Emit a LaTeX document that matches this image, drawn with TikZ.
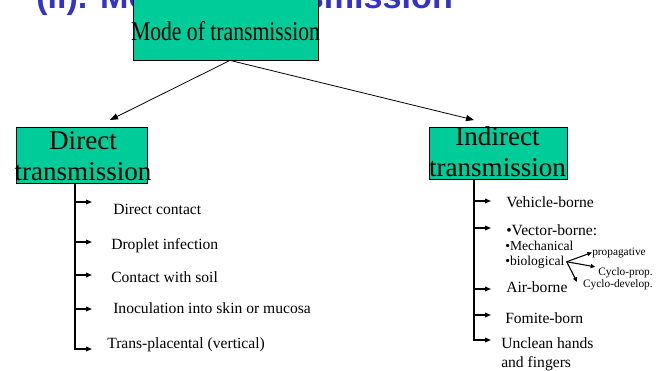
\documentclass[tikz,border=0pt]{standalone}
\usepackage{fontspec}
\usepackage{graphicx}
\setmainfont{Liberation Serif}
\newfontfamily\titlefont{Liberation Sans}
\usetikzlibrary{arrows.meta,calc}
\definecolor{boxgreen}{RGB}{0,204,153}
\definecolor{titleblue}{RGB}{51,51,204}
\tikzset{
	greenbox/.style={draw=black, line width=0.6pt, fill=boxgreen, inner sep=0pt},
	boxlabel/.style={font=\fontsize{20.3}{23}\selectfont, align=center, inner sep=0pt},
	item/.style={font=\fontsize{11.7}{14}\selectfont, inner sep=0pt, anchor=base west},
	subitem/.style={font=\fontsize{10.2}{12}\selectfont, inner sep=0pt, anchor=base west},
	smalllabel/.style={font=\fontsize{8.5}{10}\selectfont, inner sep=0pt},
	mainarrow/.style={-{Triangle[length=6pt,width=4.5pt]}, line width=0.6pt},
	branch/.style={-{Triangle[length=4.5pt,width=3.5pt]}, line width=1pt},
	fan/.style={-{Triangle[length=3.5pt,width=3pt]}, line width=0.8pt}
}
\begin{document}
\begin{tikzpicture}[x=0.75pt,y=-0.75pt]
	\useasboundingbox (0,0) rectangle (657,371);
	\clip (0,0) rectangle (657,371);

	% slide title, cut by the top edge
	\node[anchor=base west, inner sep=0pt, text=titleblue, font=\titlefont\bfseries\fontsize{25.6}{30}\selectfont] (title) at (36,8) {(ii). Mode of transmission};

	\node[greenbox, minimum width=138.75pt, minimum height=52.5pt] (mode) at (225.5,25) {};
	\node[anchor=base, inner sep=0pt, font=\fontsize{16.25}{20}\selectfont] (modelbl) at (225.5,40) {\scalebox{1}[1.25]{Mode of transmission}};

	\node[greenbox, minimum width=98.25pt, minimum height=42pt] (direct) at (81.5,155) {};
	\node[boxlabel] (directlbl) at (83,156) {Direct\\transmission};

	\node[greenbox, minimum width=103.5pt, minimum height=39pt] (indirect) at (498,153) {};
	\node[boxlabel] (indirectlbl) at (497.5,152) {Indirect\\transmission};

	\coordinate (modefoot) at ([xshift=3.4pt]mode.south);
	\coordinate (directtip) at (110,120);
	\coordinate (indirecttip) at (474,120);
	\draw[mainarrow] (modefoot) -- (directtip);
	\draw[mainarrow] (modefoot) -- (indirecttip);

	% direct branches
	\coordinate (dtrunk) at (75,349);
	\draw[branch] (direct.south -| dtrunk) -- (dtrunk) -- ++(17,0);
	\foreach \y in {202,242,275,309}
		\draw[branch] (dtrunk |- 0,\y) -- ++(17,0);

	\node[item] (dcontact) at (113,214) {Direct contact};
	\node[item] (droplet) at (111,249) {Droplet infection};
	\node[item] (soil) at (111,282) {Contact with soil};
	\node[item] (inoc) at (113,313) {Inoculation into skin or mucosa};
	\node[item] (transpl) at (107,348) {Trans-placental (vertical)};

	% indirect branches
	\coordinate (itrunk) at (474,340);
	\draw[branch] (indirect.south -| itrunk) -- (itrunk) -- ++(17,0);
	\foreach \y in {201,228,289,315}
		\draw[branch] (itrunk |- 0,\y) -- ++(17,0);

	\node[item] (vehicle) at (506,207) {Vehicle-borne};
	\node[item] (vector) at (506,235) {\textbullet Vector-borne:};
	\node[subitem] (mech) at (505,250) {\textbullet Mechanical};
	\node[subitem] (bio) at (505,265) {\textbullet biological};
	\node[item] (air) at (506,292) {Air-borne};
	\node[item] (fomite) at (505,323) {Fomite-born};
	\node[item, align=left, anchor=west] (unclean) at (501,354) {Unclean hands\\and fingers};

	\node[smalllabel, anchor=base west] (propag) at (592,255) {propagative};
	\node[smalllabel, anchor=base east] (cprop) at (653,275) {Cyclo-prop.};
	\node[smalllabel, anchor=base east] (cdevel) at (653,287) {Cyclo-develop.};

	\coordinate (biofork) at ([xshift=1.5pt]bio.east);
	\coordinate (fanlow) at (577,282);
	\draw[fan] (biofork) -- (propag.west);
	\draw[fan] (biofork) -- ([xshift=-2pt]cprop.north west);
	\draw[fan] (biofork) -- (fanlow);
\end{tikzpicture}
\end{document}
